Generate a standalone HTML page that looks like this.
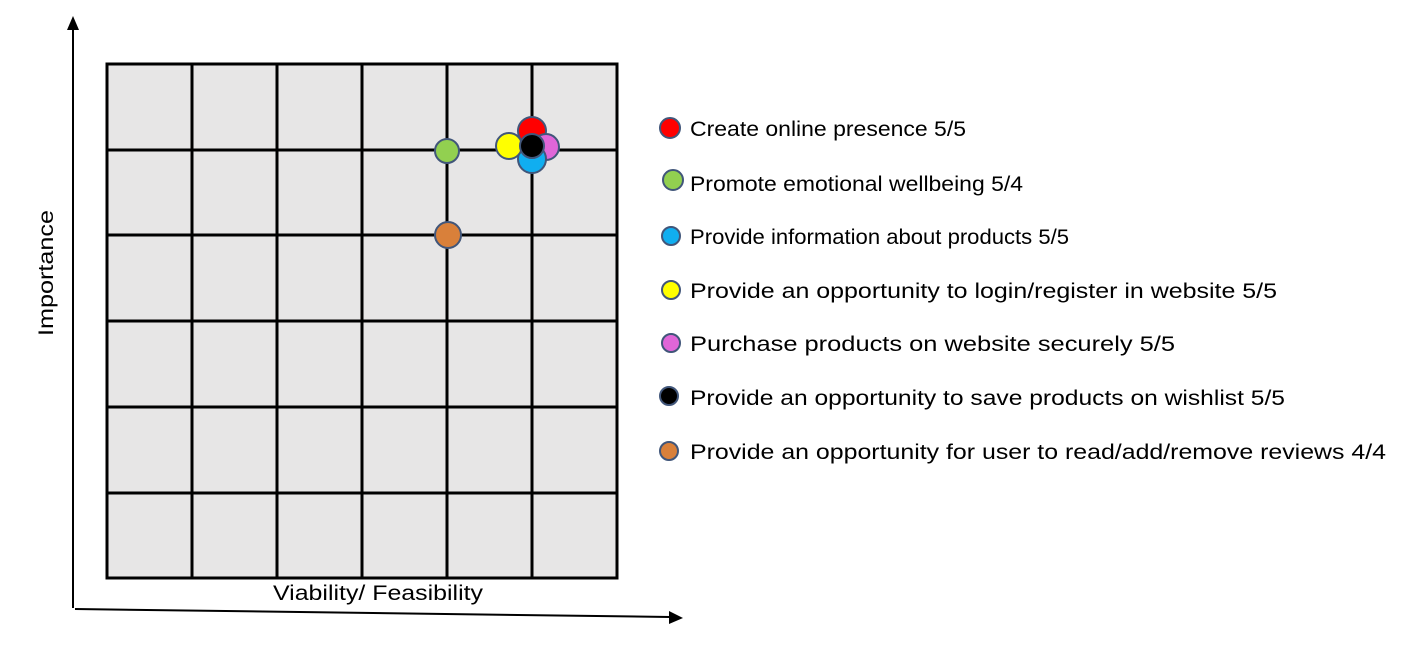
<!DOCTYPE html>
<html><head><meta charset="utf-8"><style>
html,body{margin:0;padding:0;background:#fff;}
svg{display:block;}
text{font-family:"Liberation Sans",sans-serif;fill:#000;}
</style></head><body>
<svg width="1420" height="653" viewBox="0 0 1420 653" xmlns="http://www.w3.org/2000/svg">
<rect x="107" y="64" width="510" height="514" fill="#e7e6e6"/>
<g stroke="#000" stroke-width="3">
<line x1="192" y1="64" x2="192" y2="578"/>
<line x1="277" y1="64" x2="277" y2="578"/>
<line x1="362" y1="64" x2="362" y2="578"/>
<line x1="447" y1="64" x2="447" y2="578"/>
<line x1="532" y1="64" x2="532" y2="578"/>
<line x1="107" y1="150" x2="617" y2="150"/>
<line x1="107" y1="235" x2="617" y2="235"/>
<line x1="107" y1="321" x2="617" y2="321"/>
<line x1="107" y1="407" x2="617" y2="407"/>
<line x1="107" y1="493" x2="617" y2="493"/>
<rect x="107" y="64" width="510" height="514" fill="none"/>
</g>
<!-- axes -->
<line x1="73" y1="608" x2="73" y2="30" stroke="#000" stroke-width="2"/>
<polygon points="73,16 67,30 79,30" fill="#000"/>
<line x1="75" y1="609" x2="670" y2="617" stroke="#000" stroke-width="2"/>
<polygon points="683,618 669,611 669,624" fill="#000"/>
<text x="273" y="600" font-size="21" textLength="210" lengthAdjust="spacingAndGlyphs">Viability/ Feasibility</text>
<text transform="translate(53,336) rotate(-90)" font-size="21" textLength="126" lengthAdjust="spacingAndGlyphs">Importance</text>
<!-- points -->
<g stroke="#41567a" stroke-width="2">
<circle cx="447" cy="151" r="12" fill="#92d050"/>
<circle cx="448" cy="235" r="13" fill="#d9803a"/>
<circle cx="532" cy="131" r="14" fill="#ff0000"/>
<circle cx="546" cy="147" r="13" fill="#e066d8"/>
<circle cx="532" cy="159" r="14" fill="#10aef0"/>
<circle cx="509" cy="146" r="13" fill="#ffff00"/>
<circle cx="532" cy="146" r="12" fill="#000"/>
</g>
<!-- legend -->
<g stroke="#41567a" stroke-width="2">
<circle cx="670" cy="128" r="10" fill="#ff0000"/>
<circle cx="673" cy="180" r="10" fill="#92d050"/>
<circle cx="671" cy="236" r="9" fill="#10aef0"/>
<circle cx="671" cy="290" r="9" fill="#ffff00"/>
<circle cx="671" cy="343" r="9" fill="#e066d8"/>
<circle cx="669" cy="396" r="9" fill="#000"/>
<circle cx="669" cy="451" r="9" fill="#d9803a"/>
</g>
<g font-size="21">
<text x="690" y="136" textLength="276" lengthAdjust="spacingAndGlyphs">Create online presence 5/5</text>
<text x="690" y="191" textLength="333" lengthAdjust="spacingAndGlyphs">Promote emotional wellbeing 5/4</text>
<text x="690" y="244" textLength="379" lengthAdjust="spacingAndGlyphs">Provide information about products 5/5</text>
<text x="690" y="298" textLength="587" lengthAdjust="spacingAndGlyphs">Provide an opportunity to login/register in website 5/5</text>
<text x="690" y="351" textLength="485" lengthAdjust="spacingAndGlyphs">Purchase products on website securely 5/5</text>
<text x="690" y="405" textLength="595" lengthAdjust="spacingAndGlyphs">Provide an opportunity to save products on wishlist 5/5</text>
<text x="690" y="459" textLength="696" lengthAdjust="spacingAndGlyphs">Provide an opportunity for user to read/add/remove reviews 4/4</text>
</g>
</svg>
</body></html>
